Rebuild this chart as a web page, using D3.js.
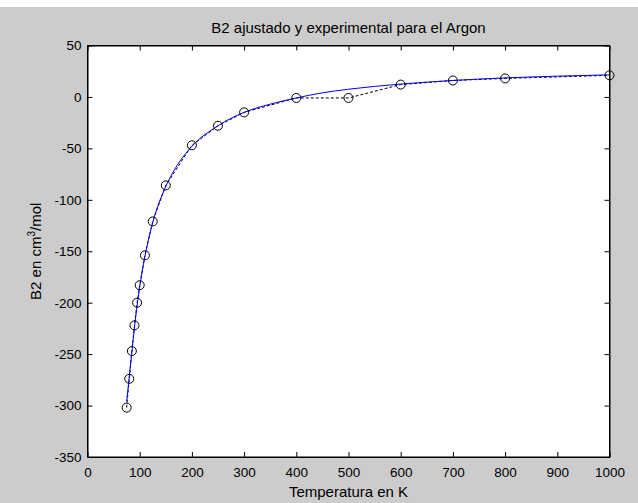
<!DOCTYPE html>
<html>
<head>
    <meta charset="utf-8">
    <title>B2 ajustado y experimental para el Argon</title>
    <script src="https://cdnjs.cloudflare.com/ajax/libs/d3/7.8.5/d3.min.js"></script>
    <style>
        body { margin: 0; background: #cccccc; }
        svg { display: block; }
        text { font-family: Arial, "Liberation Sans", sans-serif; fill: #000; }
    </style>
</head>
<body>
<div id="chart"></div>
<script>
    // Experimental data (circles, dashed line)
    const tempExp = [75, 80, 85, 90, 95, 100, 110, 125, 150, 200, 250, 300, 400, 500, 600, 700, 800, 1000];
    const b2Exp = [-302, -274, -247, -222, -200, -183, -154, -121, -86, -47, -28, -15, -1, -1, 12, 16, 18, 21];

    // Fitted curve (solid blue)
    const tempFit = [75, 80, 85, 90, 95, 100, 110, 125, 150, 175, 200, 250, 300, 350, 400, 450, 500, 600, 700, 800, 900, 1000];
    const b2Fit = [-296, -272, -248, -224, -203, -185, -155, -122, -87, -64, -48, -28, -15, -7, -1, 4, 7.5, 12.5, 16, 18.5, 20.2, 21.5];

    const xTicks = [0, 100, 200, 300, 400, 500, 600, 700, 800, 900, 1000];
    const yTicks = [50, 0, -50, -100, -150, -200, -250, -300, -350];

    const width = 638, height = 503;
    const margin = { top: 45.5, right: 28.5, bottom: 46, left: 87.5 };

    const svg = d3.select("#chart").append("svg")
        .attr("width", width)
        .attr("height", height);

    // white strip at the top of the screenshot
    svg.append("rect").attr("x", 0).attr("y", 0).attr("width", width).attr("height", 7).attr("fill", "#fff");

    const x = d3.scaleLinear().domain([0, 1000]).range([margin.left, width - margin.right]);
    const y = d3.scaleLinear().domain([-350, 50]).range([height - margin.bottom, margin.top]);

    // plot area
    svg.append("rect")
        .attr("x", x(0)).attr("y", y(50))
        .attr("width", x(1000) - x(0)).attr("height", y(-350) - y(50))
        .attr("fill", "#fff");

    const line = d3.line().x(d => x(d[0])).y(d => y(d[1]));

    // dashed experimental line
    svg.append("path")
        .datum(tempExp.map((t, i) => [t, b2Exp[i]]))
        .attr("d", line)
        .attr("fill", "none")
        .attr("stroke", "#000")
        .attr("stroke-width", 1)
        .attr("stroke-dasharray", "3,2");

    // fitted curve
    svg.append("path")
        .datum(tempFit.map((t, i) => [t, b2Fit[i]]))
        .attr("d", line.curve(d3.curveMonotoneX))
        .attr("fill", "none")
        .attr("stroke", "#0000ff")
        .attr("stroke-width", 1);

    // circles
    svg.append("g").selectAll("circle")
        .data(tempExp)
        .enter().append("circle")
        .attr("cx", d => x(d))
        .attr("cy", (d, i) => y(b2Exp[i]))
        .attr("r", 4.5)
        .attr("fill", "none")
        .attr("stroke", "#000")
        .attr("stroke-width", 1);

    // axes with inward ticks on all four sides
    const tick = 5;
    const fmt = d => String(d);
    const axisX = d3.axisBottom(x).tickValues(xTicks).tickFormat(fmt).tickSizeInner(-tick).tickSizeOuter(0).tickPadding(10);
    const axisXTop = d3.axisTop(x).tickValues(xTicks).tickSizeInner(-tick).tickSizeOuter(0).tickFormat("");
    const axisY = d3.axisLeft(y).tickValues(yTicks).tickFormat(fmt).tickSizeInner(-tick).tickSizeOuter(0).tickPadding(6);
    const axisYRight = d3.axisRight(y).tickValues(yTicks).tickSizeInner(-tick).tickSizeOuter(0).tickFormat("");

    svg.append("g").attr("transform", `translate(0,${y(-350)})`).call(axisX);
    svg.append("g").attr("transform", `translate(0,${y(50)})`).call(axisXTop);
    svg.append("g").attr("transform", `translate(${x(0)},0)`).call(axisY);
    svg.append("g").attr("transform", `translate(${x(1000)},0)`).call(axisYRight);

    svg.selectAll(".domain").attr("stroke", "#000");
    svg.selectAll(".tick line").attr("stroke", "#000");
    svg.selectAll(".tick text").style("font-size", "13.5px").attr("fill", "#000");

    // box
    svg.append("rect")
        .attr("x", x(0)).attr("y", y(50))
        .attr("width", x(1000) - x(0)).attr("height", y(-350) - y(50))
        .attr("fill", "none").attr("stroke", "#000");

    // title and labels
    svg.append("text")
        .attr("x", (x(0) + x(1000)) / 2).attr("y", 33)
        .attr("text-anchor", "middle")
        .style("font-size", "15px")
        .text("B2 ajustado y experimental para el Argon");

    svg.append("text")
        .attr("x", (x(0) + x(1000)) / 2).attr("y", 497)
        .attr("text-anchor", "middle")
        .style("font-size", "15px")
        .text("Temperatura en K");

    const yl = svg.append("text")
        .attr("transform", `translate(41,${(y(50) + y(-350)) / 2}) rotate(-90)`)
        .attr("text-anchor", "middle")
        .style("font-size", "15px");
    yl.append("tspan").text("B2 en cm");
    yl.append("tspan").attr("dy", -6).style("font-size", "10px").text("3");
    yl.append("tspan").attr("dy", 6).text("/mol");
</script>
</body>
</html>
